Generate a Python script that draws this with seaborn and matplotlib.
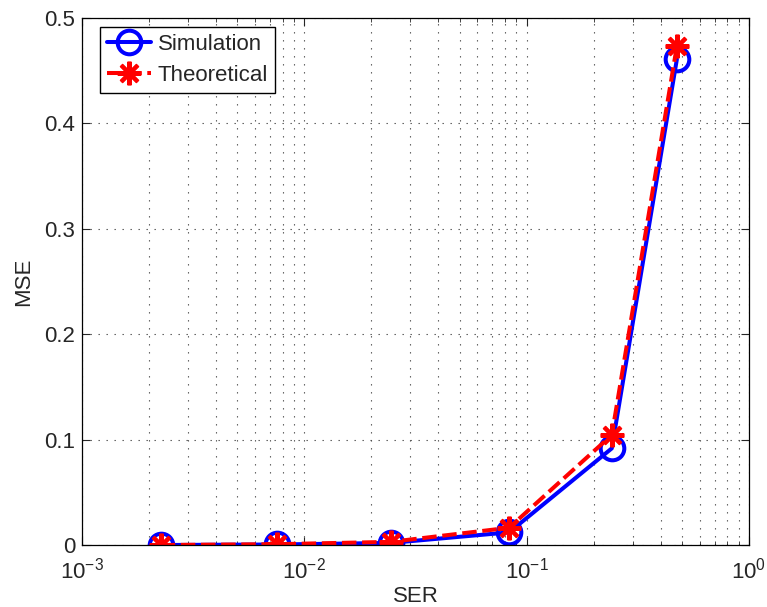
import numpy as np
import pandas as pd
import seaborn as sns
import matplotlib.pyplot as plt
from matplotlib.ticker import LogLocator, FixedLocator, FormatStrFormatter

# data
ser = [0.00226, 0.00752, 0.0245, 0.0834, 0.2415, 0.474]
mse_sim = [0.0, 0.0005, 0.002, 0.012, 0.0917, 0.461]
mse_theo = [0.0, 0.0008, 0.003, 0.0164, 0.1044, 0.4734]

df = pd.DataFrame({'SER': ser, 'Simulation': mse_sim, 'Theoretical': mse_theo})

sns.set_style('ticks')
plt.rcParams['font.family'] = ['Liberation Sans', 'DejaVu Sans']
plt.rcParams['mathtext.fontset'] = 'custom'
plt.rcParams['mathtext.rm'] = 'Liberation Sans'
plt.rcParams['mathtext.it'] = 'Liberation Sans:italic'

fig = plt.figure(figsize=(7.67, 6.07), dpi=100)
ax = fig.add_axes([0.1069, 0.1021, 0.8696, 0.8682])

sns.lineplot(data=df, x='SER', y='Simulation', ax=ax, color='#0000ff', lw=2.9,
             marker='o', markersize=17, markerfacecolor='none', markeredgecolor='#0000ff',
             markeredgewidth=2.9, label='Simulation')
sns.lineplot(data=df, x='SER', y='Theoretical', ax=ax, color='#ff0000', lw=2.9,
             linestyle=(0, (3.6, 1.4)), marker=(8, 2, 0), markersize=17,
             markeredgecolor='#ff0000', markeredgewidth=2.9, label='Theoretical')

ax.set_xscale('log')
ax.set_xlim(1e-3, 1)
ax.set_ylim(0, 0.5)
ax.yaxis.set_major_locator(FixedLocator([0, 0.1, 0.2, 0.3, 0.4, 0.5]))
ax.yaxis.set_major_formatter(FormatStrFormatter('%g'))
ax.xaxis.set_minor_locator(LogLocator(base=10, subs=np.arange(2, 10)))

grid_ls = (0, (1.2, 6))
ax.grid(True, which='major', axis='both', linestyle=grid_ls, color='0.3', lw=0.8)
ax.grid(True, which='minor', axis='x', linestyle=grid_ls, color='0.3', lw=0.8)

ax.tick_params(which='both', direction='in', top=True, right=True, labelsize=16)
ax.tick_params(which='major', length=6, width=0.8)
ax.tick_params(which='minor', length=3, width=0.6)
ax.tick_params(axis='x', which='major', pad=9)
ax.tick_params(axis='y', which='major', pad=5)
for s in ax.spines.values():
    s.set_linewidth(0.9)
    s.set_color('k')

ax.set_xlabel('SER', fontsize=16, labelpad=1.5)
ax.set_ylabel('MSE', fontsize=16, labelpad=7)

leg = ax.legend(loc='upper left', bbox_to_anchor=(0.027, 0.983), fontsize=16,
                frameon=True, fancybox=False, edgecolor='k', framealpha=1,
                borderpad=0.3, handlelength=2.0, handletextpad=0.3,
                labelspacing=0.47, borderaxespad=0)
leg.get_frame().set_linewidth(1.0)

fig.savefig('out.png', dpi=100)
